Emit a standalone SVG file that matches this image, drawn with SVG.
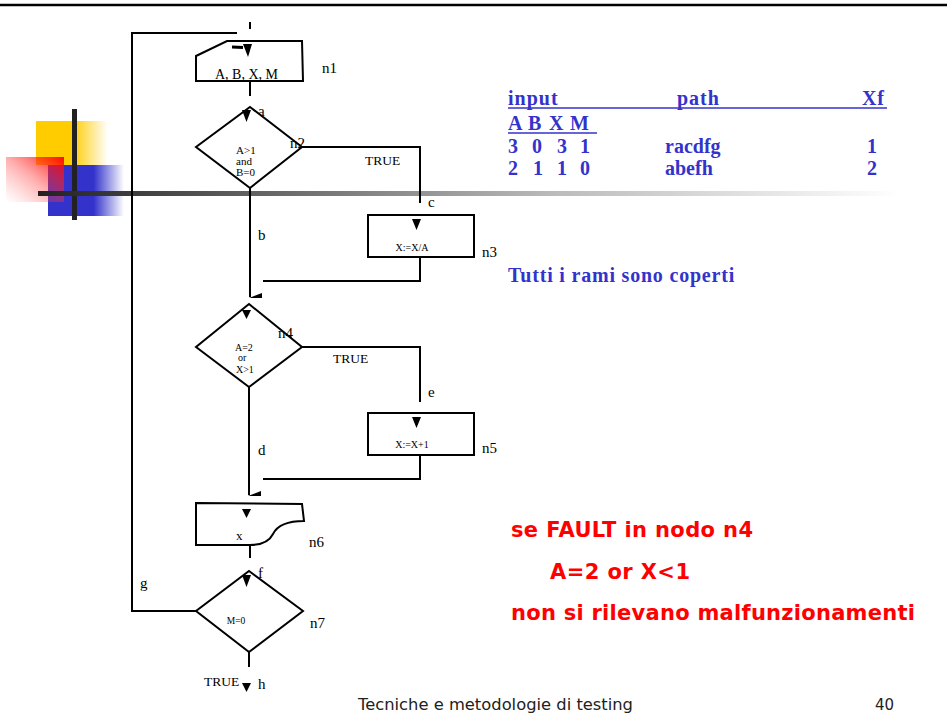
<svg xmlns="http://www.w3.org/2000/svg" width="947" height="717" viewBox="0 0 947 717">
<defs>
<linearGradient id="gY" x1="0" y1="0" x2="1" y2="0"><stop offset="0" stop-color="#FFCC00"/><stop offset="0.5" stop-color="#FFCC00"/><stop offset="1" stop-color="#FFCC00" stop-opacity="0"/></linearGradient>
<linearGradient id="gB" x1="0" y1="0" x2="1" y2="0"><stop offset="0" stop-color="#3333CC"/><stop offset="0.6" stop-color="#3333CC"/><stop offset="1" stop-color="#3333CC" stop-opacity="0"/></linearGradient>
<linearGradient id="gR" x1="1" y1="0" x2="0" y2="1"><stop offset="0" stop-color="#FF0000" stop-opacity="0.95"/><stop offset="0.5" stop-color="#FF3333" stop-opacity="0.4"/><stop offset="1" stop-color="#FF6666" stop-opacity="0"/></linearGradient>
<linearGradient id="gBar" x1="0" y1="0" x2="1" y2="0"><stop offset="0" stop-color="#222"/><stop offset="0.4" stop-color="#888"/><stop offset="0.6" stop-color="#bbb"/><stop offset="1" stop-color="#fff"/></linearGradient>
<style>
.ln{fill:none;stroke:#000;stroke-width:2}
.sh{fill:#fff;stroke:#000;stroke-width:2}
.ar{fill:#000}
.lb{font-family:"Liberation Serif",serif;font-size:15px;fill:#000}
.tr{font-family:"Liberation Serif",serif;font-size:13.5px;fill:#000}
.sm{font-family:"Liberation Serif",serif;fill:#000}
.tb{font-family:"Liberation Serif",serif;font-weight:bold;font-size:20px;fill:#3333CC}
.rd{font-family:"DejaVu Sans",sans-serif;font-weight:bold;font-size:21px;fill:#FF0000}
.ft{font-family:"DejaVu Sans",sans-serif;font-size:15px;fill:#222}
</style>
</defs>
<rect width="947" height="717" fill="#fff"/>
<line x1="0" y1="5" x2="947" y2="5" stroke="#000" stroke-width="2.5"/>
<g id="decoration">
<rect x="36" y="121" width="72" height="44" fill="url(#gY)"/>
<rect x="48" y="165" width="76" height="51" fill="url(#gB)"/>
<rect x="6" y="157" width="58" height="45" fill="url(#gR)"/>
<rect x="72" y="109" width="5" height="111" fill="#222"/>
<rect x="38" y="191" width="862" height="5" fill="url(#gBar)"/>
</g>
<g id="connectors">
<polyline class="ln" points="237,33 132,33 132,611 196,611"/>
<line class="ln" x1="250" y1="22" x2="250" y2="29"/>
<line class="ln" x1="250" y1="81" x2="250" y2="96"/>
<polyline class="ln" points="302,147 420,147 420,203"/>
<line class="ln" x1="250" y1="188" x2="250" y2="297"/>
<polygon class="ar" points="249,298 262,293 262,298"/>
<polyline class="ln" points="420,257 420,281 263,281"/>
<polyline class="ln" points="302,347 420,347 420,402"/>
<line class="ln" x1="249" y1="387" x2="249" y2="495"/>
<polygon class="ar" points="248,496 261,491 261,496"/>
<polyline class="ln" points="420,455 420,479 263,479"/>
<line class="ln" x1="250" y1="545" x2="250" y2="558"/>
<line class="ln" x1="249" y1="652" x2="249" y2="667"/>
<polygon class="ar" points="242,683 251,683 246.5,692"/>
<text class="lb" x="257" y="48">r</text>
<text class="lb" x="258" y="116">a</text>
<text class="lb" x="258" y="240">b</text>
<text class="lb" x="428" y="207">c</text>
<text class="lb" x="258" y="455">d</text>
<text class="lb" x="428" y="397">e</text>
<text class="lb" x="258" y="578">f</text>
<text class="lb" x="140" y="588">g</text>
<text class="lb" x="258" y="689">h</text>
<text class="tr" x="365" y="165">TRUE</text>
<text class="tr" x="333" y="363">TRUE</text>
<text class="tr" x="204" y="686">TRUE</text>
</g>
<g id="n1">
<path class="sh" d="M196,56 L227,41 L302,41 L303,81 L196,81 Z"/>
<line x1="232" y1="47" x2="243" y2="47.5" stroke="#000" stroke-width="3"/>
<polygon class="ar" points="243,44 252,44 248,57"/>
<text class="sm" x="215" y="79" font-size="14">A, B, X, M</text>
<text class="lb" x="322" y="73">n1</text>
</g>
<g id="n2">
<polygon class="sh" points="250,107 302,147 250,188 196,147"/>
<polygon class="ar" points="242,110 251,110 246.5,122"/>
<text class="sm" font-size="11" x="236" y="154">A&gt;1</text>
<text class="sm" font-size="11" x="236" y="165">and</text>
<text class="sm" font-size="11" x="236" y="176">B=0</text>
<text class="lb" x="290" y="148">n2</text>
</g>
<g id="n3">
<rect class="sh" x="368" y="215" width="106" height="42"/>
<polygon class="ar" points="412,219 421,219 416.5,230"/>
<text class="sm" font-size="10" x="412" y="251" text-anchor="middle">X:=X/A</text>
<text class="lb" x="482" y="257">n3</text>
</g>
<g id="n4">
<polygon class="sh" points="249,304 302,347 249,387 196,347"/>
<polygon class="ar" points="242,310 251,310 246.5,319"/>
<text class="sm" font-size="10" x="235" y="351">A=2</text>
<text class="sm" font-size="10" x="238" y="361">or</text>
<text class="sm" font-size="10" x="236" y="373">X&gt;1</text>
<text class="lb" x="278" y="338">n4</text>
</g>
<g id="n5">
<rect class="sh" x="368" y="413" width="106" height="42"/>
<polygon class="ar" points="412,417 421,417 416.5,428"/>
<text class="sm" font-size="10" x="412" y="448" text-anchor="middle">X:=X+1</text>
<text class="lb" x="482" y="453">n5</text>
</g>
<g id="n6">
<path class="sh" d="M196,503 L302,504 L304,521 C288,521 277,526 273,534 C269,542 261,545 250,545 L196,545 Z"/>
<polygon class="ar" points="242,509 251,509 246.5,518"/>
<text class="sm" font-size="13" x="236" y="540">x</text>
<text class="lb" x="309" y="547">n6</text>
</g>
<g id="n7">
<polygon class="sh" points="249,571 303,611 249,652 196,611"/>
<polygon class="ar" points="242,575 251,575 246.5,587"/>
<text class="sm" font-size="9.5" x="236" y="624" text-anchor="middle">M=0</text>
<text class="lb" x="310" y="628">n7</text>
</g>
<g id="table">
<text class="tb" x="508" y="105" font-size="21" letter-spacing="1">input</text>
<text class="tb" x="677" y="105" font-size="21" letter-spacing="1">path</text>
<text class="tb" x="862" y="105" font-size="21" letter-spacing="0.8">Xf</text>
<line x1="508" y1="108" x2="887" y2="108" stroke="#3333CC" stroke-width="1.5"/>
<text class="tb" y="130"><tspan x="508">A</tspan><tspan x="528">B</tspan><tspan x="549">X</tspan><tspan x="570">M</tspan></text>
<line x1="508" y1="133" x2="597" y2="133" stroke="#3333CC" stroke-width="1.5"/>
<text class="tb" y="153"><tspan x="508">3</tspan><tspan x="532">0</tspan><tspan x="557">3</tspan><tspan x="580">1</tspan></text>
<text class="tb" x="665" y="153" font-size="21">racdfg</text>
<text class="tb" x="867" y="153">1</text>
<text class="tb" y="175"><tspan x="508">2</tspan><tspan x="533">1</tspan><tspan x="557">1</tspan><tspan x="580">0</tspan></text>
<text class="tb" x="665" y="175" font-size="21">abefh</text>
<text class="tb" x="867" y="175">2</text>
<text class="tb" x="508" y="282" font-size="24" letter-spacing="0.8">Tutti i rami sono coperti</text>
</g>
<g id="notes">
<text class="rd" x="511" y="537" textLength="242" lengthAdjust="spacing">se FAULT in nodo n4</text>
<text class="rd" x="550" y="579" textLength="140" lengthAdjust="spacing">A=2 or X&lt;1</text>
<text class="rd" x="511" y="620" textLength="404" lengthAdjust="spacing">non si rilevano malfunzionamenti</text>
</g>
<g id="footer">
<text class="ft" x="358" y="710" textLength="275" lengthAdjust="spacingAndGlyphs">Tecniche e metodologie di testing</text>
<text class="ft" x="875" y="710">40</text>
</g>
</svg>
